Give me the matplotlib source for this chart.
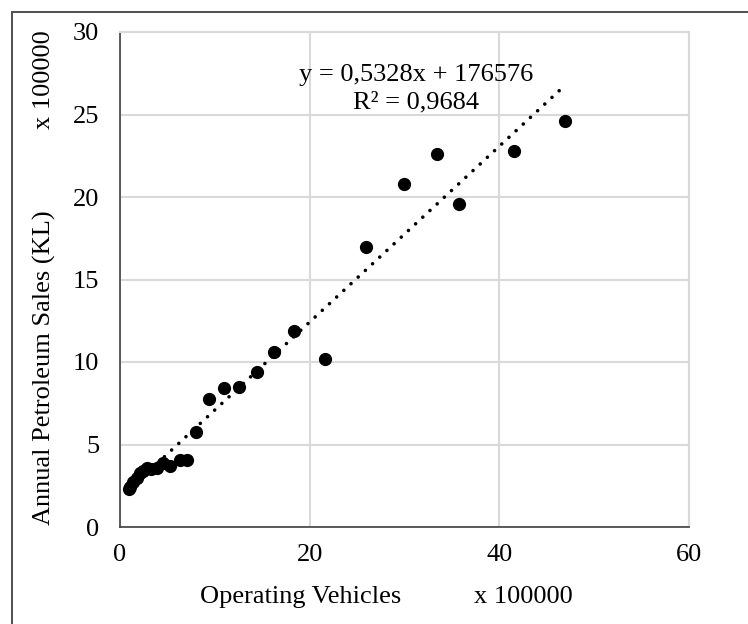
import numpy as np
import matplotlib.pyplot as plt
from matplotlib.patches import Rectangle

# operating vehicles vs annual petroleum sales, both in units of 100000
vehicles = [0.9, 1.1, 1.4, 1.8, 2.1, 2.4, 2.8, 3.3, 3.9, 4.5, 5.3, 6.3, 7.1,
            8.0, 9.4, 11.0, 12.5, 14.4, 16.2, 18.4, 21.6, 25.9, 29.9, 33.4,
            35.7, 41.5, 46.9]
sales = [2.3, 2.45, 2.7, 2.95, 3.25, 3.4, 3.6, 3.5, 3.6, 3.85, 3.7, 4.05, 4.05,
         5.75, 7.75, 8.4, 8.5, 9.4, 10.6, 11.85, 10.2, 16.95, 20.8, 22.6,
         19.6, 22.8, 24.6]
slope = 0.5328
intercept = 176576 / 100000
r2 = 0.9684

plt.rcParams['font.family'] = ['Liberation Serif', 'DejaVu Serif']
FS = 19

fig = plt.figure(figsize=(7.48, 6.24), dpi=100)
ax = fig.add_axes([120 / 748, 1 - 527 / 624, 569 / 748, 495 / 624])

ax.plot(vehicles, sales, 'o', color='black', markersize=8.5, zorder=3)

# linear trendline across the data range
xs = np.array([min(vehicles), max(vehicles)])
ax.plot(xs, slope * xs + intercept, color='black', lw=2.6,
        linestyle=(0, (0.01, 2.7)), dash_capstyle='round', zorder=2)

ax.text(31.2, 27.4, 'y = 0,5328x + 176576', fontsize=FS, ha='center', va='center')
ax.text(31.2, 25.75, 'R² = 0,9684', fontsize=FS, ha='center', va='center')

ax.set_xlim(0, 60)
ax.set_ylim(0, 30)
ax.set_xticks([0, 20, 40, 60])
ax.set_yticks([0, 5, 10, 15, 20, 25, 30])
ax.grid(True, color='#d9d9d9', lw=1.5)
ax.set_axisbelow(True)
for side in ['top', 'right']:
    ax.spines[side].set_color('#d9d9d9')
    ax.spines[side].set_linewidth(1.5)
for side in ['left', 'bottom']:
    ax.spines[side].set_color('#404040')
    ax.spines[side].set_linewidth(1.2)
ax.tick_params(length=0, labelsize=FS)
ax.tick_params(axis='y', pad=15)
ax.tick_params(axis='x', pad=12)

fig.text(301 / 748, 1 - 597 / 624, 'Operating Vehicles', fontsize=FS, ha='center', va='center')
fig.text(523 / 748, 1 - 597 / 624, 'x 100000', fontsize=FS, ha='center', va='center')
fig.text(44 / 748, 1 - 368 / 624, 'Annual Petroleum Sales (KL)', fontsize=FS,
         rotation=90, ha='center', va='center')
fig.text(44 / 748, 1 - 80 / 624, 'x 100000', fontsize=FS,
         rotation=90, ha='center', va='center')

# outer frame, open to the right and bottom
fig.patches.append(Rectangle((12 / 748, -0.1), 1.2, 1 - 11.5 / 624 + 0.1,
                             transform=fig.transFigure, fill=False,
                             edgecolor='#404040', lw=1.3))

fig.savefig('out.png', dpi=100)
